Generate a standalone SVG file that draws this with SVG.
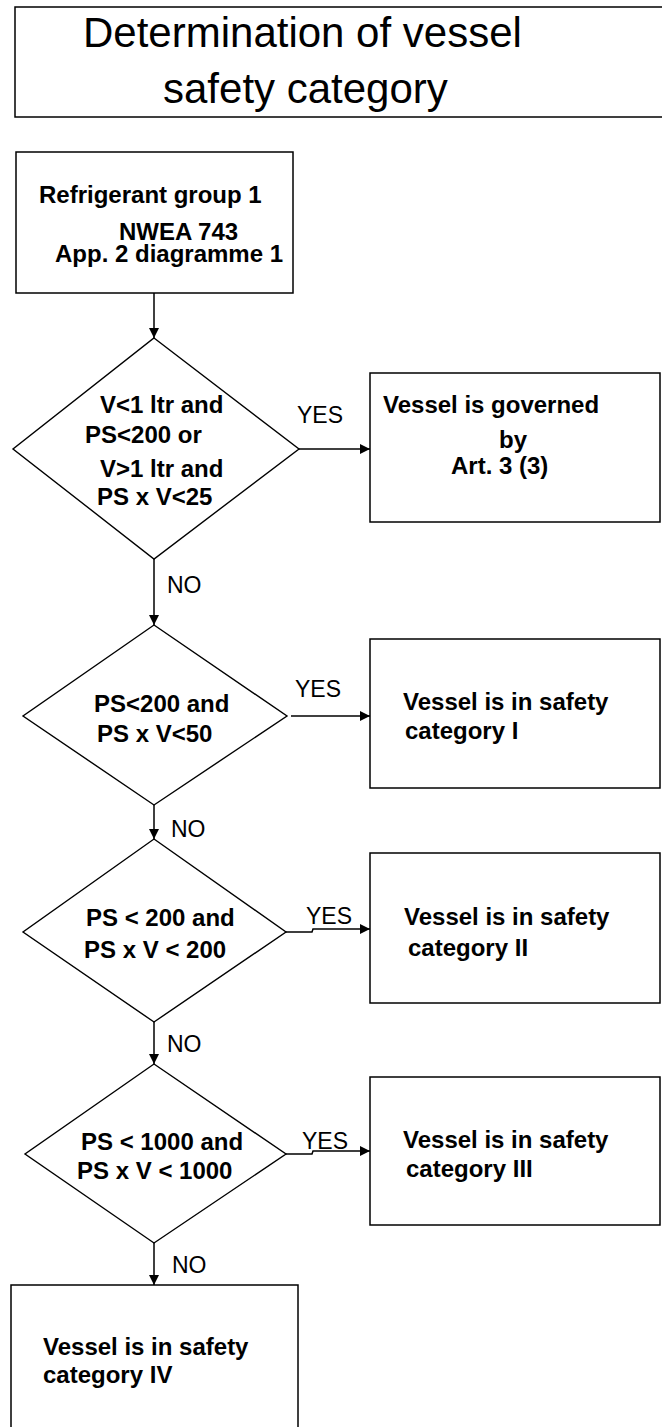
<svg xmlns="http://www.w3.org/2000/svg" width="662" height="1427" viewBox="0 0 662 1427">
<defs>
<marker id="ah" viewBox="0 0 10 10" refX="10" refY="5" markerWidth="10" markerHeight="10" markerUnits="userSpaceOnUse" orient="auto">
<path d="M0,0 L10,5 L0,10 z" fill="#000"/>
</marker>
<style>
.box{fill:#fff;stroke:#000;stroke-width:1.5}
.dia{fill:#fff;stroke:#000;stroke-width:1.4}
.t{font-family:"Liberation Sans",Arial,sans-serif;font-size:24px;font-weight:bold;fill:#000}
.lbl{font-family:"Liberation Sans",Arial,sans-serif;font-size:23px;fill:#000}
.title{font-family:"Liberation Sans",Arial,sans-serif;font-size:42px;fill:#000}
.c{fill:none;stroke:#000;stroke-width:1.5}
</style>
</defs>
<rect width="662" height="1427" fill="#fff"/>
<g id="title">
<rect class="box" x="15" y="7" width="680" height="110"/>
<text class="title" x="83" y="47">Determination of vessel</text>
<text class="title" x="163" y="103">safety category</text>
</g>
<g id="start">
<rect class="box" x="16" y="152" width="277" height="141"/>
<text class="t" x="39" y="203" font-size="23.5">Refrigerant group 1</text>
<text class="t" x="119" y="240" font-size="23.5">NWEA 743</text>
<text class="t" x="55" y="262" font-size="23.5">App. 2 diagramme 1</text>
</g>
<g id="d1">
<polygon class="dia" points="154,338 299,449 154,559 13,449"/>
<text class="t" x="100" y="413">V&lt;1 ltr and</text>
<text class="t" x="85" y="443">PS&lt;200 or</text>
<text class="t" x="100" y="477">V&gt;1 ltr and</text>
<text class="t" x="97" y="505">PS x V&lt;25</text>
</g>
<g id="r1">
<rect class="box" x="370" y="373" width="290" height="149"/>
<text class="t" x="383" y="413">Vessel is governed</text>
<text class="t" x="499" y="448">by</text>
<text class="t" x="451" y="474">Art. 3 (3)</text>
</g>
<g id="d2">
<polygon class="dia" points="154,625 287,716 154,805 23,716"/>
<text class="t" x="94" y="712">PS&lt;200 and</text>
<text class="t" x="97" y="742">PS x V&lt;50</text>
</g>
<g id="r2">
<rect class="box" x="370" y="639" width="290" height="149"/>
<text class="t" x="403" y="710">Vessel is in safety</text>
<text class="t" x="405" y="739">category I</text>
</g>
<g id="d3">
<polygon class="dia" points="154,839 286,932 154,1022 23,932"/>
<text class="t" x="86" y="926">PS &lt; 200 and</text>
<text class="t" x="84" y="958">PS x V &lt; 200</text>
</g>
<g id="r3">
<rect class="box" x="370" y="853" width="290" height="150"/>
<text class="t" x="404" y="925">Vessel is in safety</text>
<text class="t" x="408" y="956">category II</text>
</g>
<g id="d4">
<polygon class="dia" points="154,1064 286,1154 154,1243 25,1154"/>
<text class="t" x="81" y="1150">PS &lt; 1000 and</text>
<text class="t" x="77" y="1179">PS x V &lt; 1000</text>
</g>
<g id="r4">
<rect class="box" x="370" y="1077" width="290" height="148"/>
<text class="t" x="403" y="1148">Vessel is in safety</text>
<text class="t" x="406" y="1177">category III</text>
</g>
<g id="end">
<rect class="box" x="11" y="1285" width="287" height="160"/>
<text class="t" x="43" y="1355">Vessel is in safety</text>
<text class="t" x="43" y="1383">category IV</text>
</g>
<g id="connectors">
<line class="c" x1="154" y1="293" x2="154" y2="338" marker-end="url(#ah)"/>
<line class="c" x1="299" y1="449" x2="370" y2="449" marker-end="url(#ah)"/>
<line class="c" x1="154" y1="559" x2="154" y2="625" marker-end="url(#ah)"/>
<line class="c" x1="291" y1="716" x2="370" y2="716" marker-end="url(#ah)"/>
<line class="c" x1="154" y1="805" x2="154" y2="839" marker-end="url(#ah)"/>
<polyline class="c" points="286,932 312,932 313,929 370,929" marker-end="url(#ah)"/>
<line class="c" x1="154" y1="1022" x2="154" y2="1064" marker-end="url(#ah)"/>
<polyline class="c" points="286,1154 312,1154 313,1151 370,1151" marker-end="url(#ah)"/>
<line class="c" x1="154" y1="1243" x2="154" y2="1285" marker-end="url(#ah)"/>
<text class="lbl" x="297" y="423">YES</text>
<text class="lbl" x="167" y="593">NO</text>
<text class="lbl" x="295" y="697">YES</text>
<text class="lbl" x="171" y="837">NO</text>
<text class="lbl" x="306" y="924">YES</text>
<text class="lbl" x="167" y="1052">NO</text>
<text class="lbl" x="302" y="1149">YES</text>
<text class="lbl" x="172" y="1273">NO</text>
</g>
</svg>
